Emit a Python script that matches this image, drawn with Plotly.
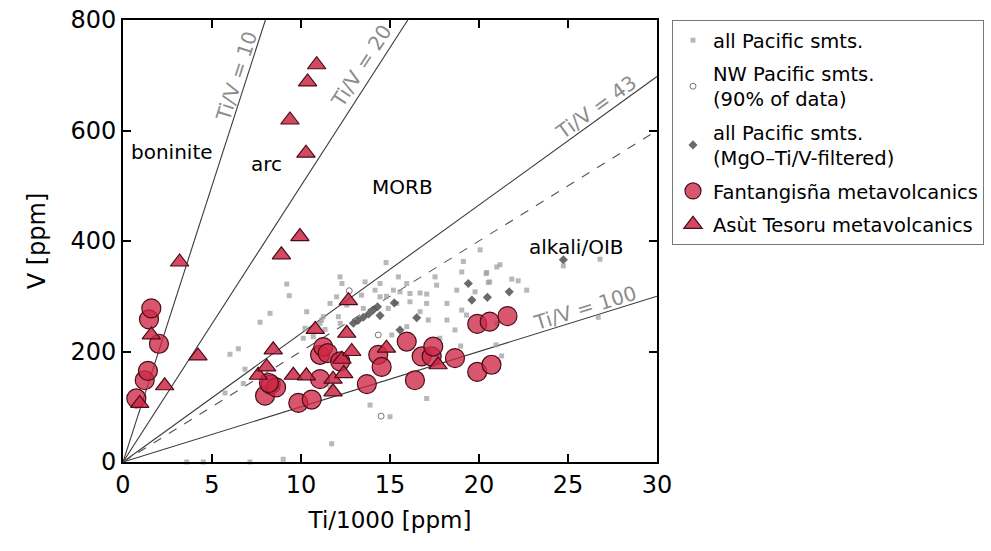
import math
import plotly.graph_objects as go

# ---- data (Ti/1000 in ppm on x, V in ppm on y) ----
pac_ti = [14.78, 12.19, 13.6, 14.44, 15.47, 15.94, 17.53, 17.62, 19.12, 19.03, 20.06, 20.4, 20.6, 21.0,
          12.0, 13.4, 14.16, 14.44, 14.8, 15.19, 15.56, 16.12, 16.69, 17.06, 18.75, 19.78,
          11.63, 12.57, 13.5, 14.9, 15.38, 16.12, 17.06, 18.2, 19.03, 10.32, 11.25, 12.1, 12.2,
          16.69, 17.15, 18.2, 19.3, 10.22, 11.07, 15.94, 15.1, 18.65, 17.8, 18.97, 13.88, 15.0,
          17.06, 11.72, 21.0, 12.3, 9.2, 9.34, 8.26, 7.7, 6.48, 6.01, 6.85, 11.35, 10.13, 10.69,
          11.16, 6.76, 5.73, 11.63, 3.58, 4.51, 7.13, 9.0, 24.74, 26.8, 20.43, 20.52, 21.84,
          22.2, 22.68, 21.18, 20.96, 21.27, 26.7]
pac_v = [361, 335, 326, 323, 335, 323, 335, 320, 363, 344, 384, 341, 326, 353,
         299, 302, 311, 299, 300, 311, 308, 305, 306, 304, 311, 308,
         287, 284, 278, 278, 287, 290, 287, 287, 275, 272, 263, 263, 251,
         272, 257, 257, 266, 242, 251, 245, 230, 239, 224, 210, 103, 82,
         115, 33, 251, 323, 322, 301, 269, 253, 205, 195, 168, 240, 224, 227,
         257, 142, 125, 136, 0, 0, 0, 5, 355, 367, 343, 325, 331,
         328, 311, 357, 212, 192, 262]

nw_ti = [12.71, 14.34, 14.5]
nw_v = [310, 230, 83]

filt_ti = [12.94, 13.2, 13.5, 13.8, 14.06, 14.3, 14.44, 15.24, 15.56, 16.5, 19.4, 19.6, 20.47, 21.7, 24.74]
filt_v = [251, 256, 262, 268, 275, 281, 265, 288, 239, 261, 323, 293, 298, 308, 366]

fant_ti = [0.75, 1.22, 1.40, 1.46, 1.59, 2.02, 7.98, 8.3, 8.6, 8.2, 9.85, 10.6, 11.07, 11.25, 11.5,
           12.2, 11.07, 13.7, 14.34, 14.53, 15.94, 16.4, 16.78, 17.34, 17.43, 18.65, 19.9, 19.9,
           20.6, 20.7, 21.6]
fant_v = [115, 148, 165, 258, 278, 214, 120, 140, 135, 143, 107, 113, 194, 208, 197,
          182, 150, 141, 194, 172, 218, 148, 191, 191, 209, 188, 250, 163,
          254, 176, 264]

asut_ti = [0.94, 1.59, 2.34, 3.18, 4.21, 7.6, 8.07, 8.44, 8.9, 9.38, 9.57, 9.94, 10.28, 10.37, 10.88,
           10.3, 10.8, 11.8, 11.8, 12.3, 12.4, 12.57, 12.66, 12.85, 14.8, 17.7]
asut_v = [106, 230, 138, 362, 192, 157, 172, 203, 375, 619, 157, 408, 559, 688, 719,
          156, 240, 150, 127, 186, 160, 233, 292, 200, 206, 176]

# reference Ti/V ratios
ratios = [10, 20, 43, 100]
dashed_ratio = 50
ratio_labels = ["Ti/V = 10", "Ti/V = 20", "Ti/V = 43", "Ti/V = 100"]
ratio_label_pos = [(6.4, 698), (13.4, 716), (26.6, 643), (25.95, 278)]

field_names = ["boninite", "arc", "MORB", "alkali/OIB"]
field_pos = [(2.75, 561), (8.07, 539), (15.73, 498), (25.49, 390)]

X_MAX, Y_MAX = 30, 800

fig = go.Figure()

# Ti/V reference lines through the origin
for r in ratios + [dashed_ratio]:
    x_end = min(X_MAX, Y_MAX * r / 1000)
    fig.add_trace(go.Scatter(
        x=[0, x_end], y=[0, 1000 * x_end / r], mode="lines",
        line=dict(color="#3a3a3a" if r != dashed_ratio else "#555555", width=1.1,
                  dash="solid" if r != dashed_ratio else "dash"),
        showlegend=False, hoverinfo="skip"))

fig.add_trace(go.Scatter(
    x=pac_ti, y=pac_v, mode="markers", name="all Pacific smts.", legendgroup="g1",
    marker=dict(symbol="square", size=5, color="rgba(160,160,160,0.75)", line=dict(width=0)),
    cliponaxis=False))
fig.add_trace(go.Scatter(
    x=nw_ti, y=nw_v, mode="markers", name="NW Pacific smts.<br>(90% of data)", legendgroup="g2",
    marker=dict(symbol="circle", size=6, color="white", line=dict(width=1, color="#777777"))))
fig.add_trace(go.Scatter(
    x=filt_ti, y=filt_v, mode="markers", name="all Pacific smts.<br>(MgO\u2013Ti/V-filtered)",
    legendgroup="g3",
    marker=dict(symbol="diamond", size=7, color="rgba(80,80,80,0.85)", line=dict(width=0))))
fig.add_trace(go.Scatter(
    x=fant_ti, y=fant_v, mode="markers", name="Fantangis\u00f1a metavolcanics", legendgroup="g4",
    marker=dict(symbol="circle", size=19, color="rgba(205,40,70,0.78)",
                line=dict(width=1.2, color="#4a0d18"))))
fig.add_trace(go.Scatter(
    x=asut_ti, y=asut_v, mode="markers", name="As\u00f9t Tesoru metavolcanics", legendgroup="g5",
    marker=dict(symbol="triangle-up", size=16, color="rgba(205,40,70,0.85)",
                line=dict(width=1.2, color="#4a0d18"))))

# slope of each ratio line in pixels, for label rotation
plot_w, plot_h = 534, 442
for r, txt, (lx, ly) in zip(ratios, ratio_labels, ratio_label_pos):
    slope_px = (1000 / r) * (plot_h / Y_MAX) / (plot_w / X_MAX)
    ang = math.degrees(math.atan(slope_px))
    fig.add_annotation(x=lx, y=ly, text=txt, showarrow=False, textangle=-ang,
                       font=dict(family="DejaVu Sans", size=20, color="#8c8c8c"))

for name, (fx, fy) in zip(field_names, field_pos):
    fig.add_annotation(x=fx, y=fy, text=name, showarrow=False,
                       font=dict(family="DejaVu Sans", size=20, color="black"))

axis_common = dict(showline=True, linewidth=2, linecolor="black", mirror="ticks",
                   ticks="inside", ticklen=8, tickwidth=2, tickcolor="black",
                   showgrid=False, zeroline=False, automargin=False,
                   tickfont=dict(family="DejaVu Sans", size=24, color="black"))

fig.update_layout(
    width=991, height=551,
    margin=dict(l=123, r=334, t=20, b=89, autoexpand=False),
    plot_bgcolor="white", paper_bgcolor="white",
    xaxis=dict(range=[0, X_MAX], dtick=5, title=dict(text="Ti/1000 [ppm]", standoff=14,
               font=dict(family="DejaVu Sans", size=23, color="black")), **axis_common),
    yaxis=dict(range=[0, Y_MAX], dtick=200, title=dict(text="V [ppm]", standoff=18,
               font=dict(family="DejaVu Sans", size=24, color="black")), **axis_common),
    legend=dict(x=672 / 991, y=1 - 20 / 551, xref="container", yref="container",
                xanchor="left", yanchor="top",
                bordercolor="#777777", borderwidth=1, bgcolor="white",
                font=dict(family="DejaVu Sans", size=19.5, color="black"),
                valign="middle", itemsizing="trace", tracegroupgap=5, itemwidth=30),
    showlegend=True,
)

fig.write_html("out.html")
